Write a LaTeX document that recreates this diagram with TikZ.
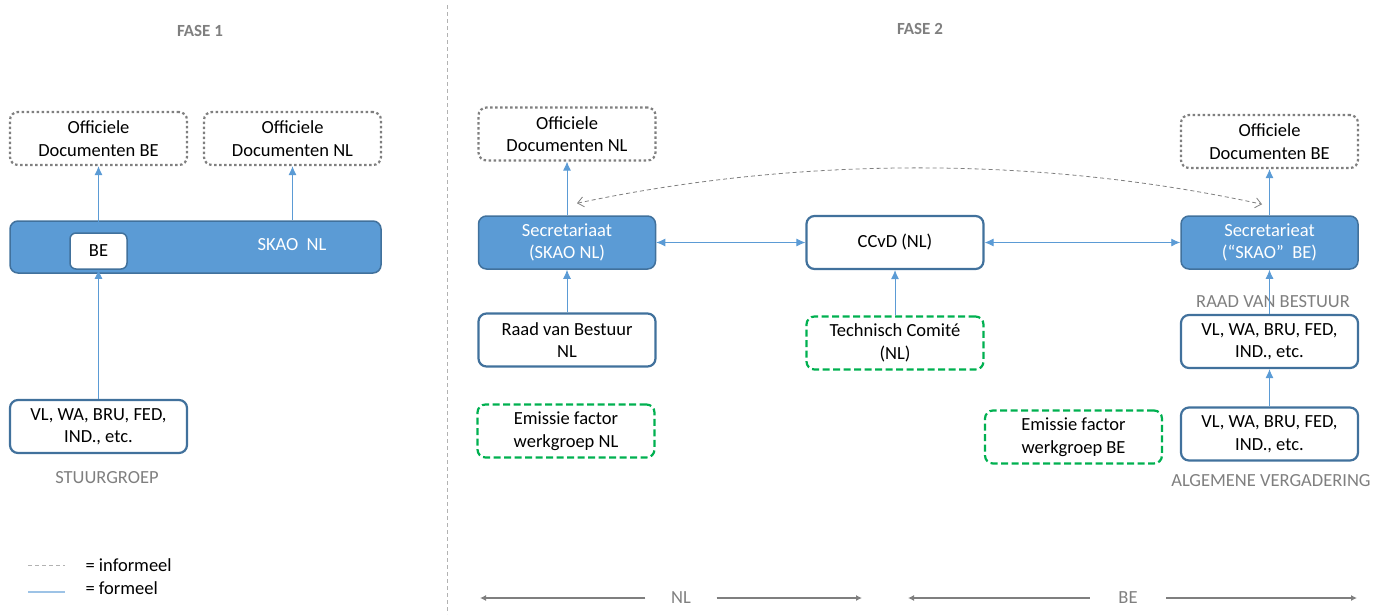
\documentclass[tikz,border=0pt]{standalone}
\usepackage{fontspec}
\setmainfont{Carlito}
\usetikzlibrary{arrows.meta,positioning}
\definecolor{boxblue}{HTML}{5B9BD5}
\definecolor{edgeblue}{HTML}{41719C}
\definecolor{efgreen}{HTML}{00B050}
\definecolor{lblgray}{HTML}{7F7F7F}
\definecolor{lightblue}{HTML}{9DC3E6}

\begin{document}
\begin{tikzpicture}[x=1pt,y=-1pt,align=center,
	font=\fontsize{18.5}{22.5}\selectfont,
	box/.style={draw=edgeblue,line width=2.2pt,rounded corners=8pt,minimum width=177pt,minimum height=53pt,inner sep=2pt},
	secr/.style={box,fill=boxblue,line width=1.5pt,text=white},
	doc/.style={box,draw=lblgray,line width=2.2pt,dash pattern=on 2.5pt off 2.5pt},
	werk/.style={box,draw=efgreen,line width=2.2pt,dash pattern=on 7pt off 3.5pt},
	caption/.style={text=lblgray},
	fase/.style={caption,font=\bfseries\fontsize{17}{19}\selectfont},
	formeel/.style={boxblue,line width=0.9pt,-{Latex[length=9pt,width=8pt]}},
	wederzijds/.style={formeel,{Latex[length=9pt,width=8pt]}-{Latex[length=9pt,width=8pt]}},
	informeel/.style={lblgray,line width=0.8pt,dash pattern=on 4pt off 3pt},
	span/.style={lblgray,line width=1.3pt,-{Latex[length=6pt,width=6pt]}}]
	\useasboundingbox (0,0) rectangle (1373,614);
	\draw[informeel,lblgray!60] (447,5) -- (447,614);
	\node[fase] (fase1) at (200,31) {FASE 1};
	\node[fase] (fase2) at (920,29) {FASE 2};
	\node[doc] (docbe1) at (98.5,138.5) {Officiele\\Documenten BE};
	\node[doc] (docnl1) at (292.5,138.5) {Officiele\\Documenten NL};
	\node[secr,minimum width=371pt,minimum height=52pt] (skao) at (195.5,247) {};
	\node[text=white] (skaolbl) at (292,245) {SKAO\ \ NL};
	\node[box,fill=white,line width=1.5pt,rounded corners=6pt,minimum width=57pt,minimum height=36pt] (be) at (98.5,251) {BE};
	\node[box] (stuur) at (98.5,426.5) {VL, WA, BRU, FED,\\IND., etc.};
	\node[caption] (stuurlbl) at (107,478) {STUURGROEP};
	\draw[formeel] (be.north) -- (docbe1.south);
	\draw[formeel] (skao.north -| docnl1) -- (docnl1.south);
	\draw[formeel] (stuur) -- (be);
	\draw[informeel,lblgray!60] (28,565) -- (65,565);
	\node[anchor=west] (leginf) at (82,565) {= informeel};
	\draw[lightblue,line width=1.5pt] (28,592) -- (65,592);
	\node[anchor=west] (legform) at (82,588) {= formeel};
	\node[doc] (docnl2) at (567,134) {Officiele\\Documenten NL};
	\node[secr] (secnl) at (567,242.5) {Secretariaat\\(SKAO NL)};
	\node[box] (rvbnl) at (567,340) {Raad van Bestuur\\NL};
	\node[werk] (efnl) at (566,431) {Emissie factor\\werkgroep NL};
	\node[box] (ccvd) at (895,242.5) {CCvD (NL)};
	\node[werk] (tc) at (895,343) {Technisch Comité\\(NL)};
	\node[secr] (secbe) at (1269.5,242.5) {Secretarieat\\(“SKAO”\ \ BE)};
	\node[doc] (docbe2) at (1269.5,141.5) {Officiele\\Documenten BE};
	\node[caption] (rvblbl) at (1273,302) {RAAD VAN BESTUUR};
	\node[box] (rvbbe) at (1269.5,341.5) {VL, WA, BRU, FED,\\IND., etc.};
	\node[box] (avbe) at (1269.5,434) {VL, WA, BRU, FED,\\IND., etc.};
	\node[caption] (avlbl) at (1271,481) {ALGEMENE VERGADERING};
	\node[werk] (efbe) at (1073.5,437) {Emissie factor\\werkgroep BE};
	\draw[formeel] (secnl) -- (docnl2);
	\draw[formeel] (rvbnl) -- (secnl);
	\draw[wederzijds] (secnl) -- (ccvd);
	\draw[formeel] (tc) -- (ccvd);
	\draw[wederzijds] (ccvd) -- (secbe);
	\draw[formeel] (secbe) -- (docbe2);
	\draw[formeel] (rvbbe) -- (secbe);
	\draw[formeel] (avbe) -- (rvbbe);
	\coordinate (infnl) at ([xshift=10pt,yshift=12pt]secnl.north);
	\coordinate (infbe) at ([xshift=-7.5pt,yshift=11pt]secbe.north);
	\draw[informeel,{Straight Barb[length=6pt,width=10pt]}-{Straight Barb[length=6pt,width=10pt]}] (infnl) .. controls (800,156) and (1040,156) .. (infbe);
	\node[caption,minimum width=71pt] (nl) at (681,598) {NL};
	\coordinate (nlwest) at (480,598);
	\coordinate (nleast) at (862,598);
	\draw[span] (nl) -- (nlwest);
	\draw[span] (nl) -- (nleast);
	\node[caption,minimum width=76pt] (bel) at (1128,598) {BE};
	\coordinate (bewest) at (908,598);
	\coordinate (beeast) at (1357,598);
	\draw[span] (bel) -- (bewest);
	\draw[span] (bel) -- (beeast);
\end{tikzpicture}
\end{document}
